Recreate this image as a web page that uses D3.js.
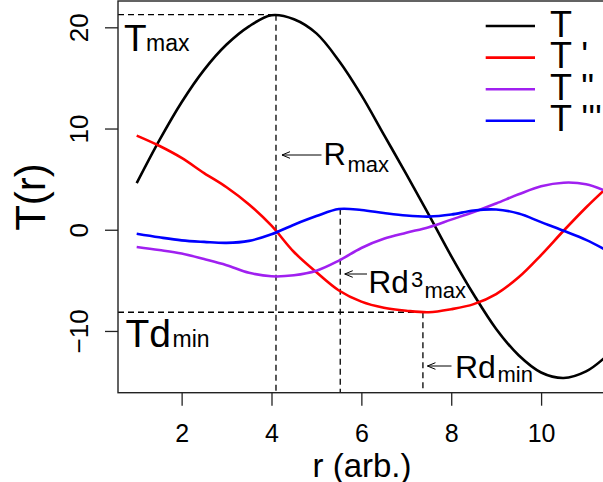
<!DOCTYPE html>
<html><head><meta charset="utf-8">
<script src="https://cdn.jsdelivr.net/npm/d3@7"></script>
<style>body{margin:0;background:#fff}svg{display:block}text{font-family:"Liberation Sans",Arial,sans-serif;fill:#000}</style>
</head><body>
<script>
// ---- data ----
const r      = [1, 1.5, 2, 2.5, 3, 3.5, 4, 4.5, 5, 5.5, 6, 6.5, 7, 7.5, 8, 8.5, 9, 9.5, 10, 10.5, 11, 11.4];
const T      = [4.6, 8.8, 12.6, 15.8, 18.3, 20.1, 21.2, 20.8, 19.4, 16.7, 13.3, 9.4, 5.5, 1.5, -2.6, -6.4, -9.8, -12.4, -14.1, -14.65, -14.0, -12.7];
const T1     = [9.3, 8.3, 7.1, 5.6, 4.2, 2.5, 0.4, -2.2, -4.2, -6.0, -7.1, -7.7, -8.0, -8.15, -7.85, -7.35, -6.35, -4.7, -2.5, -0.1, 2.2, 3.9];
const T2     = [-1.7, -2.0, -2.35, -2.9, -3.5, -4.25, -4.6, -4.5, -4.05, -3.05, -1.8, -0.9, -0.3, 0.25, 1.0, 1.75, 2.6, 3.5, 4.3, 4.65, 4.5, 3.9];
const T3     = [-0.4, -0.75, -1.05, -1.2, -1.3, -1.1, -0.45, 0.5, 1.35, 2.05, 1.95, 1.65, 1.4, 1.3, 1.5, 1.9, 2.0, 1.6, 0.75, -0.1, -1.0, -1.9];
const seriesNames  = ["T", "T '", "T \"", "T '''"];
const seriesColors = ["#000000", "#ff0000", "#a020f0", "#0000ff"];
const xTicks = [2, 4, 6, 8, 10];
const yTicks = [-10, 0, 10, 20];
// annotation values
const Tmax = 21.25, Rmax = 4.1;
const Rd3max = 5.53, Td3max = 2.08;
const Tdmin = -8.15, Rdmin = 7.37;

// ---- layout ----
const W = 603, H = 482;
const L = 118, R = 622.7, Tp = 1, B = 392.7;
const svg = d3.select("body").append("svg").attr("width", W).attr("height", H);

const xPad = 0.04 * (d3.max(r) - d3.min(r));
const x = d3.scaleLinear().domain([d3.min(r) - xPad, d3.max(r) + xPad]).range([L, R]);
const y = d3.scaleLinear().domain([-16.1, 22.6]).range([B, Tp]);

// clip
svg.append("clipPath").attr("id", "pc").append("rect").attr("x", L).attr("y", Tp).attr("width", R - L).attr("height", B - Tp);

// dashed guide lines
const dash = "6,4";
const g = svg.append("g").attr("stroke", "#000").attr("stroke-width", 1.3).attr("stroke-dasharray", dash).attr("fill", "none");
g.append("line").attr("x1", L).attr("x2", x(Rmax)).attr("y1", y(Tmax)).attr("y2", y(Tmax));
g.append("line").attr("x1", x(Rmax)).attr("x2", x(Rmax)).attr("y1", y(Tmax)).attr("y2", B);
g.append("line").attr("x1", x(Rd3max)).attr("x2", x(Rd3max)).attr("y1", y(Td3max)).attr("y2", B);
g.append("line").attr("x1", L).attr("x2", x(Rdmin)).attr("y1", y(Tdmin)).attr("y2", y(Tdmin));
g.append("line").attr("x1", x(Rdmin)).attr("x2", x(Rdmin)).attr("y1", y(Tdmin)).attr("y2", B);

// curves
const line = d3.line().x((d, i) => x(r[i])).y(d => y(d)).curve(d3.curveCatmullRom.alpha(0.5));
const allSeries = [T, T1, T2, T3];
const cg = svg.append("g").attr("clip-path", "url(#pc)");
allSeries.forEach((s, k) => {
  cg.append("path").attr("d", line(s)).attr("fill", "none").attr("stroke", seriesColors[k]).attr("stroke-width", 2.6).attr("stroke-linejoin", "round");
});

// frame
svg.append("rect").attr("x", L).attr("y", Tp).attr("width", R - L).attr("height", B - Tp)
  .attr("fill", "none").attr("stroke", "#222").attr("stroke-width", 1.4);

// axes
const xAxis = d3.axisBottom(x).tickValues(xTicks).tickSize(13).tickPadding(10).tickFormat(d3.format("d"));
const xa = svg.append("g").attr("transform", `translate(0,${B})`).call(xAxis);
xa.select(".domain").remove();
xa.selectAll("line").attr("stroke", "#222").attr("stroke-width", 1.3);
xa.selectAll("text").attr("font-size", 25).attr("font-family", "Liberation Sans, Arial, sans-serif").attr("fill", "#000").attr("dy", null).attr("y", 49);

const yAxis = d3.axisLeft(y).tickValues(yTicks).tickSize(13).tickFormat(d => d < 0 ? "\u2212" + Math.abs(d) : d);
const ya = svg.append("g").attr("transform", `translate(${L},0)`).call(yAxis);
ya.select(".domain").remove();
ya.selectAll("line").attr("stroke", "#222").attr("stroke-width", 1.3);
ya.selectAll("text").attr("font-size", 26).attr("font-family", "Liberation Sans, Arial, sans-serif").attr("fill", "#000")
  .attr("x", null).attr("dy", null).attr("text-anchor", "middle")
  .attr("transform", "translate(-30,0) rotate(-90)").attr("y", 0);

// axis titles
svg.append("text").attr("x", 362).attr("y", 477).attr("text-anchor", "middle").attr("font-size", 33).text("r (arb.)");
svg.append("text").attr("transform", "translate(45,197) rotate(-90)").attr("text-anchor", "middle").attr("font-size", 42).text("T(r)");

// legend
const lg = svg.append("g");
seriesNames.forEach((n, k) => {
  const yy = 26 + k * 31.6;
  lg.append("line").attr("x1", 485.7).attr("x2", 535).attr("y1", yy).attr("y2", yy).attr("stroke", seriesColors[k]).attr("stroke-width", 2.6);
  lg.append("text").attr("x", 550).attr("y", yy + 10.5).attr("font-size", 36).attr("xml:space", "preserve").style("white-space", "pre").text(n);
});

// annotation labels
function label(parts) {
  const t = svg.append("text");
  parts.forEach(p => t.append("tspan").attr("x", p.x).attr("y", p.y).attr("font-size", p.s).text(p.t));
}
label([{t: "T", x: 124, y: 50.5, s: 37}, {t: "max", x: 146, y: 50.5, s: 23}]);
label([{t: "Td", x: 125.5, y: 346.7, s: 39}, {t: "min", x: 172.5, y: 346.7, s: 23}]);
label([{t: "R", x: 323.5, y: 165, s: 31}, {t: "max", x: 347.5, y: 171.7, s: 22}]);
label([{t: "Rd", x: 368.5, y: 292.7, s: 31.5}, {t: "3", x: 411, y: 287, s: 22}, {t: "max", x: 424.5, y: 298.3, s: 22}]);
label([{t: "Rd", x: 455, y: 378.3, s: 32}, {t: "min", x: 497.5, y: 381.7, s: 22}]);

// arrows
function arrow(x1, x2, yy) {
  const a = svg.append("g").attr("stroke", "#000").attr("stroke-width", 1).attr("fill", "none");
  a.append("line").attr("x1", x1).attr("x2", x2).attr("y1", yy).attr("y2", yy);
  a.append("path").attr("d", `M${x2 + 8},${yy - 3.3}L${x2},${yy}L${x2 + 8},${yy + 3.3}`);
}
arrow(321.5, x(Rmax) + 6, 155);
arrow(367, x(Rd3max) + 4.5, 274);
arrow(451.5, x(Rdmin) + 4.5, 366);
</script>
</body></html>
